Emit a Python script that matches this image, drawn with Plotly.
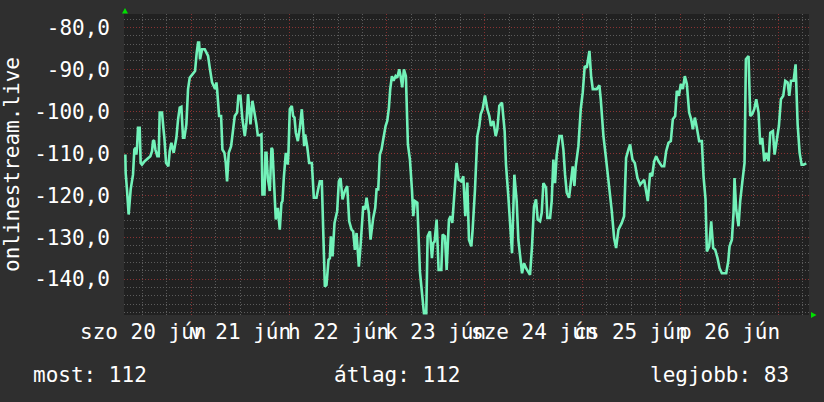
import plotly.graph_objects as go
import pandas as pd

# ---------------- data ----------------
START = pd.Timestamp("2020-06-20 00:00")

# hours after 2020-06-20 00:00
hours = [
    7.78, 7.86, 8.18, 8.59, 9.09, 9.66, 9.99, 10.31, 10.48, 10.64, 10.89, 11.30, 11.54, 11.87, 12.53, 13.34,
    13.92, 14.33, 14.57, 14.82, 15.15, 15.64, 15.97, 16.21, 16.78, 17.11, 17.36, 17.77, 18.34, 18.67, 19.08,
    19.65, 20.06, 20.31, 20.72, 21.13, 21.53, 21.94, 22.27, 22.76, 23.17, 23.58, 24.24, 24.89, 25.30, 25.63,
    25.88, 26.12, 26.61, 27.27, 27.68, 28.09, 28.50, 29.07, 29.81, 30.13, 30.30, 30.79, 31.28, 31.61, 32.10,
    32.43, 32.75, 33.16, 33.74, 34.23, 34.64, 35.21, 35.54, 36.03, 36.52, 37.10, 37.50, 37.91, 38.49, 38.98,
    39.39, 39.96, 40.29, 40.78,
    41.19, 41.44, 41.93, 42.17, 42.42, 42.75, 43.24, 43.65, 43.89, 44.22, 44.71, 45.20, 45.69, 46.10, 46.35,
    46.68, 47.17, 47.66, 47.83, 48.15, 48.64, 48.97, 49.30, 49.63, 50.12, 50.61, 51.10, 51.43, 51.67, 51.92,
    52.41, 52.90, 53.56, 54.05, 54.70, 55.11, 55.52, 56.01, 56.34, 56.75, 57.16, 57.65, 57.98, 58.23, 58.64,
    59.13, 59.78, 60.19, 60.60, 61.09, 61.67, 62.24, 62.73, 63.30, 63.71, 64.12, 64.53, 65.10, 65.51, 66.17,
    66.66, 66.99, 67.56, 67.97, 68.63, 69.12, 69.45, 69.86, 70.26, 70.67, 71.08, 71.66, 72.07, 72.48, 72.80,
    73.21, 73.62, 74.11, 74.52, 75.01, 75.34,
    75.75, 76.16, 76.65, 77.14, 77.64, 78.13, 78.46, 78.87, 79.44, 80.09, 80.58, 81.08, 81.65, 81.98, 82.55,
    83.04, 83.37, 83.70, 84.19, 84.68, 85.34, 85.66, 86.24, 86.65, 87.22, 87.63, 88.04, 88.53, 89.10, 89.60,
    90.25, 90.74, 91.23, 91.72, 92.13, 92.71, 93.03, 93.61, 94.18, 94.67, 95.00, 95.49, 96.06, 96.64, 97.13,
    97.54, 98.11, 98.69, 99.09, 99.58, 100.24, 100.89, 101.22, 101.79, 102.20, 102.70, 103.27, 103.84, 104.25,
    104.66, 105.16, 105.65, 106.14, 107.12, 107.61, 108.10, 108.59, 109.00, 109.58,
    109.99, 110.40, 111.05, 111.38, 112.04, 112.44, 112.85, 113.26, 113.67, 114.33, 114.90, 115.31, 115.72,
    116.13, 116.70, 117.19, 117.60, 118.01, 118.34, 118.99, 119.57, 120.06, 120.55, 121.04, 121.70, 122.11,
    122.52, 123.50, 124.15, 124.48, 125.14, 125.71, 126.37, 126.78, 127.19, 127.76, 128.25, 128.82, 129.64,
    130.21, 130.70, 131.28, 131.69, 132.26, 132.84, 133.49, 134.15, 135.13, 135.62, 136.03, 136.60, 137.09,
    137.59, 138.08, 138.65, 139.47, 140.04, 140.54, 141.11, 141.68, 142.17, 142.75, 143.15, 143.65, 144.14,
    144.63, 145.12, 145.61, 146.18, 146.68, 147.09, 147.58, 148.07, 148.64, 149.30, 149.71, 150.20, 150.53,
    151.10, 151.59, 152.08, 152.57, 153.15, 153.64, 154.21, 155.28, 155.77, 156.09, 156.67, 157.08, 157.32,
    157.73, 158.30, 158.71, 159.20, 159.78, 160.11, 160.76, 161.17, 161.66, 162.16, 162.65, 163.22, 163.63,
    164.12, 164.61, 165.10, 165.68, 166.09, 166.74, 167.15, 167.64, 168.21, 168.71, 169.28, 169.77, 170.35,
    170.76, 171.17, 171.82, 172.31, 172.81, 173.30, 173.79, 174.28, 174.94,
]

values = [
    -110.3, -114.7, -118.6, -124.6, -118.6, -115.1, -109.1, -108.7, -110.3, -108.7, -103.9, -103.9, -112.3, -112.7, -111.9, -111.1,
    -110.7, -109.5, -107.1, -106.9, -109.1, -110.7, -110.7, -100.3, -100.3, -103.9, -106.3, -112.3, -113.1, -109.5, -107.5,
    -109.9, -107.1, -106.3, -101.9, -99.1, -98.9, -106.3, -106.3, -103.1, -94.7, -92.0, -91.2, -90.4, -86.0, -83.6,
    -83.6, -87.6, -85.2, -85.2, -86.0, -86.8, -89.6, -93.1, -94.7, -93.1, -94.7, -101.1, -101.1, -109.1, -109.9,
    -112.3, -116.7, -109.9, -108.3, -103.5, -101.1, -100.3, -96.3, -96.3, -101.9, -105.9, -102.7, -95.9, -103.1, -97.5,
    -99.5, -103.1, -105.7, -105.7,
    -105.5, -119.8, -119.8, -109.9, -109.9, -115.9, -119.0, -108.7, -109.1, -115.5, -125.8, -123.0, -128.2, -121.8, -121.4,
    -115.9, -109.9, -112.7, -109.5, -99.5, -98.7, -101.1, -101.5, -105.1, -107.1, -103.9, -99.5, -103.9, -108.3, -105.5,
    -108.3, -112.3, -112.3, -120.6, -120.6, -118.6, -116.7, -116.7, -131.4, -141.8, -141.4, -135.4, -135.0, -129.8, -134.6,
    -126.6, -123.8, -116.7, -115.9, -121.0, -119.0, -117.8, -126.2, -128.2, -128.6, -133.0, -129.0, -137.0, -132.2, -122.6,
    -123.4, -120.6, -124.2, -130.6, -125.4, -123.0, -118.6, -118.6, -110.3, -109.1, -106.7, -103.5, -102.3, -99.1, -94.7,
    -91.6, -92.7, -91.6, -92.0, -90.0, -91.6,
    -94.3, -90.0, -91.6, -107.9, -111.5, -118.6, -125.0, -121.4, -121.8, -138.2, -144.1, -148.1, -148.1, -129.8, -128.6,
    -135.0, -131.4, -131.0, -125.8, -137.8, -137.8, -129.4, -129.8, -137.8, -125.8, -125.0, -126.6, -119.8, -112.3, -116.3,
    -116.7, -115.5, -125.0, -117.0, -130.6, -132.2, -128.2, -118.6, -105.9, -103.5, -100.7, -99.5, -96.2, -99.5, -101.1,
    -103.5, -102.3, -105.9, -104.3, -98.7, -97.9, -104.7, -112.7, -120.2, -126.6, -133.8, -115.1, -121.4, -130.6,
    -135.0, -138.6, -136.2, -137.4, -139.0, -132.2, -122.6, -121.0, -125.8, -126.2,
    -124.2, -117.1, -118.2, -125.4, -125.4, -121.4, -111.5, -117.1, -110.3, -105.9, -105.9, -109.1, -115.1,
    -119.4, -120.6, -117.1, -113.1, -117.8, -113.1, -108.3, -99.5, -95.5, -89.2, -89.6, -85.6, -91.6,
    -94.7, -94.7, -93.8, -97.1, -105.9, -110.7, -116.3, -121.0, -123.8, -130.2, -132.6, -128.2, -126.6,
    -125.0, -111.1, -109.1, -107.9, -111.5, -112.3, -115.9, -117.5, -116.3, -119.0, -121.4, -114.7, -115.5,
    -111.9, -110.7, -111.9, -113.1, -113.1, -109.5, -107.5, -107.1, -101.9, -101.1, -95.1, -96.3, -93.5,
    -94.7, -91.6, -93.5, -100.3, -101.9, -104.3, -101.5, -103.9, -107.1, -107.1, -115.5, -121.0, -133.4,
    -132.2, -126.2, -132.6, -133.0, -135.0, -137.4, -138.6, -138.6, -135.8, -132.2, -130.6, -124.2, -115.9,
    -123.4, -127.4, -121.4, -117.1, -112.3, -87.6, -86.8, -101.1, -100.7, -99.5, -97.1, -100.3, -107.9,
    -106.3, -111.9, -109.9, -111.9, -105.1, -104.7, -110.3, -107.5, -103.5, -97.1, -96.3, -92.7, -93.1,
    -96.3, -92.7, -92.7, -88.8, -103.1, -109.9, -112.7, -112.7, -112.4,
]

assert len(hours) == len(values), (len(hours), len(values))

day_labels = ["szo 20 jún", "v 21 jún", "h 22 jún", "k 23 jún", "sze 24 jún", "cs 25 jún", "p 26 jún"]
y_ticks = [-140, -130, -120, -110, -100, -90, -80]
y_tick_labels = ["-140,0", "-130,0", "-120,0", "-110,0", "-100,0", "-90,0", "-80,0"]
series_name = "onlinestream.live"
legend_items = ["most: 112", "átlag: 112", "legjobb: 83"]

# ---------------- layout constants ----------------
W, H = 824, 402
PL, PR, PT, PB = 124, 809, 14, 315          # plot area in pixels
FONT = "DejaVu Sans Mono"
FS = 21


def px_x(px):
    return (px - PL) / (PR - PL)


def px_y(py):
    return (PB - py) / (PB - PT)


times = [START + pd.Timedelta(hours=h) for h in hours]

fig = go.Figure()
fig.add_trace(go.Scatter(
    x=times, y=values, mode="lines",
    line=dict(color="#72f2b9", width=2.6),
    hoverinfo="skip", showlegend=False,
))

x_start = START + pd.Timedelta(hours=7.45)
x_end = START + pd.Timedelta(hours=175.6)

red_grid = "rgba(140,50,50,0.95)"
gray_grid = "rgba(95,95,95,0.95)"
dash = "1px,2px"

fig.update_layout(
    width=W, height=H,
    margin=dict(l=PL, r=W - PR, t=PT, b=H - PB, pad=0),
    paper_bgcolor="#2f2f2f",
    plot_bgcolor="#212121",
    font=dict(family=FONT, size=FS, color="#ffffff"),
    showlegend=False,
    xaxis=dict(
        type="date",
        range=[x_start, x_end],
        tick0="2020-06-20", dtick=86400000,
        showticklabels=False, ticks="",
        showgrid=True, gridcolor=red_grid, griddash=dash, gridwidth=1,
        minor=dict(tick0="2020-06-20", dtick=6 * 3600000, showgrid=True,
                   gridcolor=gray_grid, griddash=dash, gridwidth=1),
        zeroline=False, showline=False, fixedrange=True,
    ),
    yaxis=dict(
        range=[-148.55, -76.8],
        tickmode="array", tickvals=y_ticks, ticktext=y_tick_labels,
        ticks="", ticklabelstandoff=13,
        tickfont=dict(family=FONT, size=FS, color="#ffffff"),
        showgrid=True, gridcolor=red_grid, griddash=dash, gridwidth=1,
        minor=dict(tickmode="linear", tick0=0, dtick=2, showgrid=True,
                   gridcolor=gray_grid, griddash=dash, gridwidth=1),
        zeroline=False, showline=False, fixedrange=True,
    ),
)

annotations = []
# day labels centred at noon (they overlap, as in the original rrd graph)
for i, lab in enumerate(day_labels):
    annotations.append(dict(
        x=START + pd.Timedelta(hours=12 + 24 * i), xref="x",
        y=px_y(331.5), yref="paper",
        text=lab, showarrow=False, xanchor="center", yanchor="middle",
        font=dict(family=FONT, size=FS, color="#ffffff"),
    ))

# vertical axis title
annotations.append(dict(
    x=px_x(11.5), xref="paper", y=0.5, yref="paper",
    text=series_name, textangle=-90, showarrow=False,
    xanchor="center", yanchor="middle",
    font=dict(family=FONT, size=FS, color="#ffffff"),
))

# summary line
legend_x = [31, 332, 648]
for lx, txt in zip(legend_x, legend_items):
    annotations.append(dict(
        x=px_x(lx), xref="paper", y=px_y(375), yref="paper",
        text=txt, showarrow=False, xanchor="left", yanchor="middle",
        font=dict(family=FONT, size=FS, color="#ffffff"),
    ))

fig.update_layout(annotations=annotations)

# small green arrow heads at the axis ends
arrow_up = "M {} {} L {} {} L {} {} Z".format(px_x(122), px_y(13.5), px_x(128), px_y(13.5), px_x(125), px_y(8))
arrow_right = "M {} {} L {} {} L {} {} Z".format(px_x(811), px_y(312), px_x(811), px_y(318), px_x(816.5), px_y(315))
fig.update_layout(shapes=[
    dict(type="path", path=arrow_up, xref="paper", yref="paper",
         fillcolor="#00e000", line=dict(width=0), layer="above"),
    dict(type="path", path=arrow_right, xref="paper", yref="paper",
         fillcolor="#00e000", line=dict(width=0), layer="above"),
])

fig.write_html("out.html", config=dict(displayModeBar=False, staticPlot=True))
